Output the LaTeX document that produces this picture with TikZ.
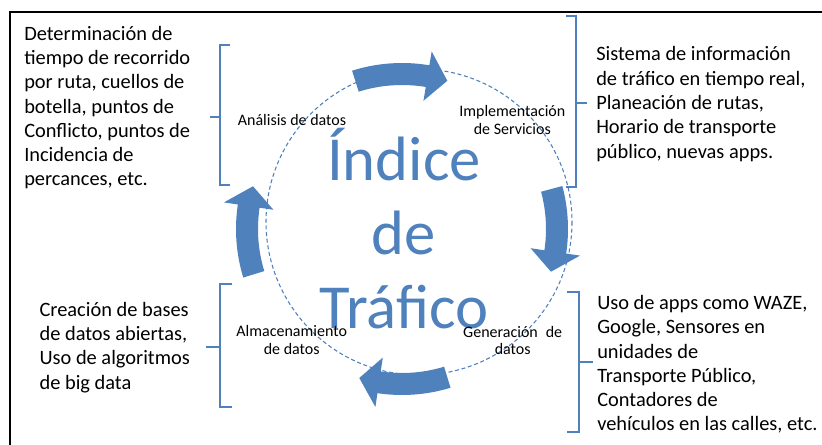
\documentclass[tikz,border=0pt]{standalone}
\usepackage{fontspec}
\setmainfont{Carlito}
\definecolor{ofblue}{RGB}{79,129,189}
\newcommand\cycarrow[3]{% start angle, tip angle, head base angle
  \fill[cyc] (#1:166) arc[start angle=#1,end angle=#3,radius=166] -- (#3:180) -- (#2:155) -- (#3:130) -- (#3:144) arc[start angle=#3,end angle=#1,radius=144] -- cycle;}
\begin{document}
\begin{tikzpicture}[x=0.75pt,y=-0.75pt,
  desc/.style={font=\fontsize{15.3}{18.2}\selectfont, align=left, anchor=north west, inner sep=0pt},
  lbl/.style={font=\fontsize{12}{13.2}\selectfont, align=center, inner sep=0pt},
  big/.style={font=\fontsize{47}{55.5}\selectfont, text=ofblue, align=center, anchor=north, inner sep=0pt},
  brk/.style={draw=ofblue, line width=1.4pt},
  cyc/.style={fill=ofblue},
  ring/.style={draw=ofblue, line width=0.8pt, dash pattern=on 3pt off 2pt}]
\useasboundingbox (0,0) rectangle (822,445);
\clip (0,0) rectangle (822,445);
\draw[line width=1.6pt] (10,12) rectangle (900,520);
% dashed ring
\draw[ring] (419,222) circle[radius=153];
% cycle arrows
\begin{scope}[shift={(402,229)},y=0.75pt]
  \cycarrow{107.5}{73}{80.5}
  \cycarrow{15}{-16}{-8.5}
  \cycarrow{-73}{-106}{-98.5}
  \cycarrow{197}{164}{171.5}
\end{scope}
% brackets
\draw[brk] (230,45) -- (220,45) -- (220,185) -- (230,185) (220,117) -- (210,117);
\draw[brk] (566,16) -- (576,16) -- (576,187) -- (566,187) (576,103) -- (587,103);
\draw[brk] (232,284) -- (220,284) -- (220,407) -- (232,407) (220,347) -- (206,347);
\draw[brk] (567,292) -- (579,292) -- (579,432) -- (567,432) (579,362) -- (593,362);
% big title
\node[big] (title) at (404,120) {\rule{0pt}{45pt}Índice\\de\\Tráfico};
% stage labels
\node[lbl, anchor=base] (analisis) at (292,125.7) {Análisis de datos};
\node[lbl, anchor=north] (impl) at (512.3,103.4) {\rule{0pt}{10pt}Implementación\\de Servicios};
\node[lbl, anchor=north] (alm) at (291.7,323) {\rule{0pt}{10pt}Almacenamiento\\de datos};
\node[lbl, anchor=north] (gen) at (512.7,323.7) {\rule{0pt}{10pt}Generación\hspace{0.5em}de\\datos};
% descriptions
\node[desc] (d1) at (24,22.7) {\rule{0pt}{13pt}Determinación de\\tiempo de recorrido\\por ruta, cuellos de\\botella, puntos de\\Conflicto, puntos de\\Incidencia de\\percances, etc.};
\node[desc] (d2) at (596,43.4) {\rule{0pt}{13pt}Sistema de información\\de tráfico en tiempo real,\\Planeación de rutas,\\Horario de transporte\\público, nuevas apps.};
\node[desc] (d3) at (597,292) {\rule{0pt}{13pt}Uso de apps como WAZE,\\Google, Sensores en\\unidades de\\Transporte Público,\\Contadores de\\vehículos en las calles, etc.};
\node[desc] (d4) at (39.3,298.7) {\rule{0pt}{13pt}Creación de bases\\de datos abiertas,\\Uso de algoritmos\\de big data};
\end{tikzpicture}
\end{document}
